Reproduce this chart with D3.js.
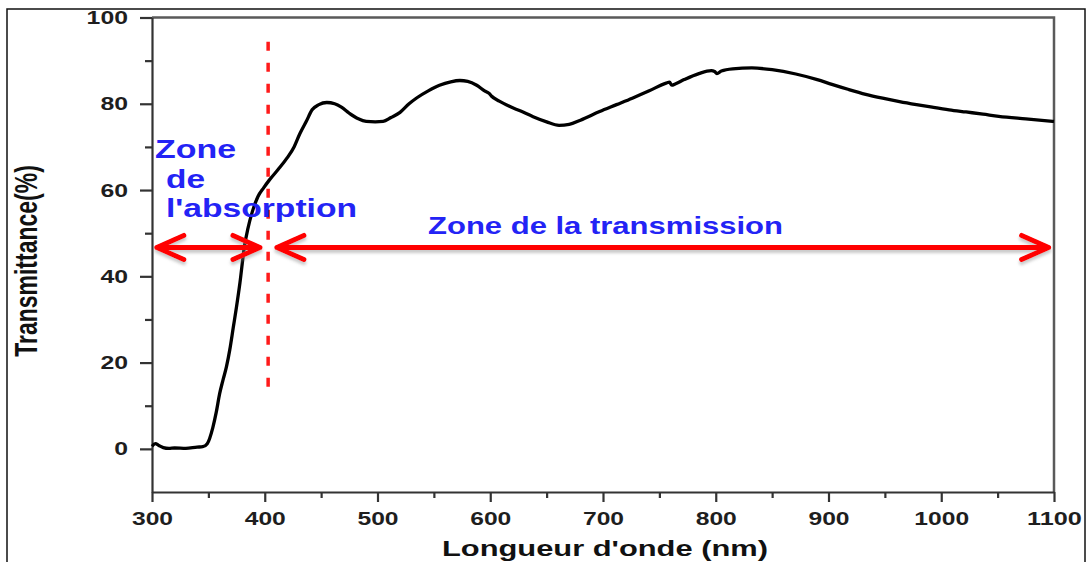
<!DOCTYPE html>
<html>
<head>
<meta charset="utf-8">
<script src="https://cdn.jsdelivr.net/npm/d3@7"></script>
<style>
  body { margin: 0; background: #fff; }
  svg { display: block; }
</style>
</head>
<body>
<div id="chart"></div>
<script>
// wavelength (nm) and transmittance (%)
const wavelengths = [300, 303, 306, 310, 315, 320, 330, 340, 345, 349, 354, 357, 360, 363, 366, 369, 372, 375, 378, 382,
  385, 389, 394, 399, 404, 412, 420, 426, 431, 437, 442, 448, 455, 462, 468, 475, 483, 490, 498, 505,
  512, 520, 528, 535, 545, 555, 565, 573, 580, 588, 595, 599, 601, 608, 617, 627, 638, 650, 661, 670,
  680, 697, 712, 726, 741, 756, 759, 761, 764, 772, 785, 796, 799, 801, 805, 815, 832, 850, 871, 890,
  903, 918, 933, 948, 963, 978, 992, 1007, 1022, 1037, 1051, 1075, 1100];
const transmittance = [0.6, 1.2, 0.8, 0.3, 0.1, 0.2, 0.1, 0.4, 0.5, 1.2, 5, 8.5, 12.8, 16, 19, 23, 28, 33, 38.5, 47,
  51, 55, 58.5, 60.5, 62.3, 64.8, 67.5, 70, 73, 76, 78.6, 79.8, 80.3, 80, 79.2, 77.8, 76.5, 75.9, 75.8, 75.9,
  76.8, 78, 80, 81.4, 83, 84.3, 85.1, 85.4, 85.2, 84.3, 83, 82.4, 81.8, 80.6, 79.4, 78.3, 77, 75.8, 75, 75.2,
  76.2, 78.2, 79.8, 81.3, 83, 84.8, 85, 84.3, 84.6, 85.6, 87, 87.7, 87.5, 87, 87.6, 88.1, 88.3, 87.9, 86.9, 85.6,
  84.5, 83.3, 82.2, 81.3, 80.5, 79.8, 79.2, 78.6, 78.1, 77.6, 77.1, 76.5, 75.9];

const xTicks = [300, 400, 500, 600, 700, 800, 900, 1000, 1100];
const xMinorTicks = [350, 450, 550, 650, 750, 850, 950, 1050];
const yTicks = [0, 20, 40, 60, 80, 100];
const yMinorTicks = [10, 30, 50, 70, 90];

// annotations (data units)
const edgeWavelength = 403;
const edgeRange = [12.6, 94.4];
const arrowLevel = 46.7;
const absorptionArrow = [302.5, 397.5];
const transmissionArrow = [409, 1097];

const W = 1087, H = 562;
const plotLeft = 152, plotRight = 1054, plotTop = 17.5, plotBottom = 492;

const svg = d3.select('#chart').append('svg')
  .attr('width', W)
  .attr('height', H);

const defs = svg.append('defs');
const shadow = defs.append('filter').attr('id', 'shadow')
  .attr('x', '-5%').attr('y', '-50%').attr('width', '110%').attr('height', '200%');
shadow.append('feDropShadow')
  .attr('dx', 0).attr('dy', 3).attr('stdDeviation', 1.5)
  .attr('flood-color', '#888').attr('flood-opacity', 0.45);

// outer picture border
svg.append('rect')
  .attr('x', 7).attr('y', 9)
  .attr('width', 1078).attr('height', 570)
  .attr('fill', 'none')
  .attr('stroke', '#111')
  .attr('stroke-width', 1.5);

const x = d3.scaleLinear().domain([300, 1100]).range([plotLeft, plotRight]);
const y = d3.scaleLinear().domain([-10, 100]).range([plotBottom, plotTop]);

// top and right frame
svg.append('path')
  .attr('d', `M${plotLeft},${plotTop}H${plotRight}V${plotBottom}`)
  .attr('fill', 'none')
  .attr('stroke', '#5a5a5a')
  .attr('stroke-width', 2.5);

const tickFont = 'Liberation Sans, Arial, sans-serif';

// minor ticks
svg.append('g')
  .attr('transform', `translate(0, ${plotBottom})`)
  .call(d3.axisBottom(x).tickValues(xMinorTicks).tickSize(6).tickFormat(''))
  .call(g => g.select('.domain').remove());
svg.append('g')
  .attr('transform', `translate(${plotLeft}, 0)`)
  .call(d3.axisLeft(y).tickValues(yMinorTicks).tickSize(7).tickFormat(''))
  .call(g => g.select('.domain').remove());

// major x axis
const xAxis = svg.append('g')
  .attr('transform', `translate(0, ${plotBottom})`)
  .call(d3.axisBottom(x).tickValues(xTicks).tickFormat(d3.format('d'))
    .tickSize(10).tickSizeOuter(0).tickPadding(10));
xAxis.selectAll('text')
  .attr('dy', '0.71em')
  .attr('textLength', d => String(d).length * 13.7)
  .attr('lengthAdjust', 'spacingAndGlyphs');

// major y axis
const yAxis = svg.append('g')
  .attr('transform', `translate(${plotLeft}, 0)`)
  .call(d3.axisLeft(y).tickValues(yTicks).tickFormat(d3.format('d'))
    .tickSize(12).tickSizeOuter(0).tickPadding(12));
yAxis.selectAll('text')
  .attr('textLength', d => String(d).length * 13.8)
  .attr('lengthAdjust', 'spacingAndGlyphs');

svg.selectAll('.tick line, .domain')
  .attr('stroke', '#333')
  .attr('stroke-width', 2.2);
svg.selectAll('.tick text')
  .attr('fill', '#1e1e1e')
  .style('font-family', tickFont)
  .style('font-weight', 'bold')
  .style('font-size', '19px');

// spectrum
const line = d3.line()
  .x(d => x(d[0]))
  .y(d => y(d[1]))
  .curve(d3.curveMonotoneX);

svg.append('path')
  .datum(wavelengths.map((w, i) => [w, transmittance[i]]))
  .attr('d', line)
  .attr('fill', 'none')
  .attr('stroke', '#000')
  .attr('stroke-width', 3.3)
  .attr('stroke-linejoin', 'round');

// absorption edge marker
svg.append('line')
  .attr('x1', x(edgeWavelength)).attr('x2', x(edgeWavelength))
  .attr('y1', y(edgeRange[1])).attr('y2', y(edgeRange[0]))
  .attr('stroke', '#ff1a1a')
  .attr('stroke-width', 3.5)
  .attr('stroke-dasharray', '9,12');

// double arrows
function drawArrow(range) {
  const g = svg.append('g').attr('filter', 'url(#shadow)');
  const x0 = x(range[0]), x1 = x(range[1]), ay = y(arrowLevel);
  g.append('path')
    .attr('d', `M${x0 + 2},${ay}H${x1 - 2}`
      + `M${x0 + 29},${ay - 12}L${x0 + 2},${ay}L${x0 + 29},${ay + 12}`
      + `M${x1 - 29},${ay - 12}L${x1 - 2},${ay}L${x1 - 29},${ay + 12}`)
    .attr('fill', 'none')
    .attr('stroke', '#ff0000')
    .attr('stroke-width', 5)
    .attr('stroke-linecap', 'round')
    .attr('stroke-linejoin', 'round');
}
drawArrow(absorptionArrow);
drawArrow(transmissionArrow);

// zone labels
const labelFont = 'Liberation Sans, Arial, sans-serif';
function label(txt, lx, ly, len, size, color) {
  return svg.append('text')
    .attr('x', lx).attr('y', ly)
    .attr('textLength', len)
    .attr('lengthAdjust', 'spacingAndGlyphs')
    .attr('fill', color)
    .style('font-family', labelFont)
    .style('font-weight', 'bold')
    .style('font-size', size + 'px')
    .text(txt);
}
label('Zone', 155, 158, 81, 25, '#2323f5');
label('de', 166, 188, 39, 25, '#2323f5');
label("l'absorption", 166, 217, 191, 25, '#2323f5');
label('Zone de la transmission', 428, 234, 355, 24, '#2323f5');

// axis titles
label("Longueur d'onde (nm)", 442, 556, 326, 22, '#111');

svg.append('text')
  .attr('transform', `translate(37, 261) scale(1.35, 1) rotate(-90)`)
  .attr('text-anchor', 'middle')
  .attr('fill', '#111')
  .style('font-family', labelFont)
  .style('font-weight', 'bold')
  .style('font-size', '23px')
  .text('Transmittance(%)');
</script>
</body>
</html>
